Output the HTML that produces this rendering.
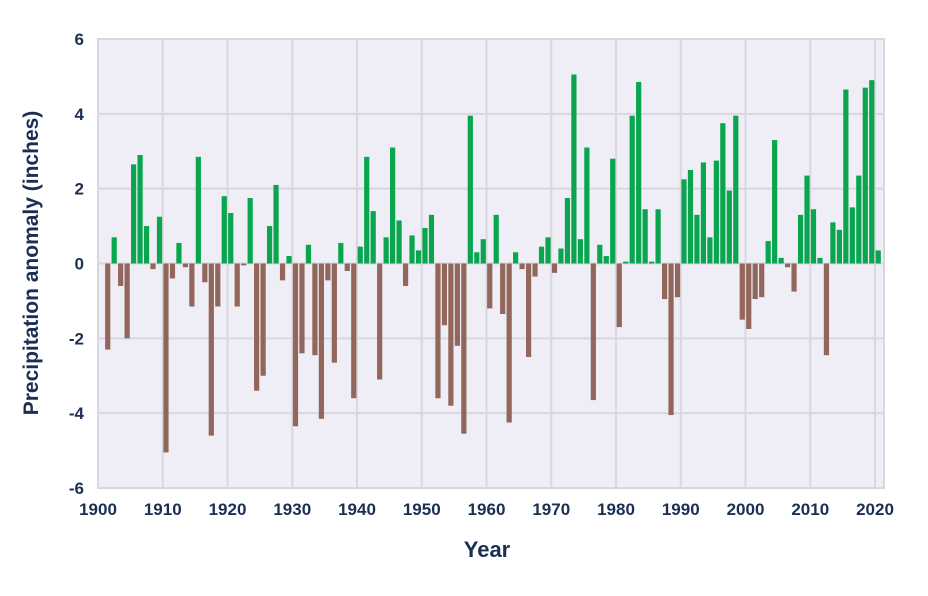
<!DOCTYPE html>
<html><head><meta charset="utf-8"><style>
body{margin:0;background:#fff;}
svg text{font-family:"Liberation Sans",sans-serif;font-weight:bold;fill:#1b2f55;}
</style></head><body>
<svg id="chart" width="928" height="591">
<rect x="98" y="39" width="786" height="449" fill="#efedf5" stroke="#d9d7de" stroke-width="2"/>
<g id="grid"></g>
<g id="bars"></g>
<g id="axes"></g>
<text x="487" y="557" font-size="22" text-anchor="middle">Year</text>
<text transform="translate(38,263) rotate(-90)" font-size="21" text-anchor="middle">Precipitation anomaly (inches)</text>
</svg>
<script>
const years=[];for(let y=1901;y<=2020;y++)years.push(y);
const values=[-2.3,0.7,-0.6,-2.0,2.65,2.9,1.0,-0.15,1.25,-5.05,
-0.4,0.55,-0.1,-1.15,2.85,-0.5,-4.6,-1.15,1.8,1.35,
-1.15,-0.05,1.75,-3.4,-3.0,1.0,2.1,-0.45,0.2,-4.35,
-2.4,0.5,-2.45,-4.15,-0.45,-2.65,0.55,-0.2,-3.6,0.45,
2.85,1.4,-3.1,0.7,3.1,1.15,-0.6,0.75,0.35,0.95,
1.3,-3.6,-1.65,-3.8,-2.2,-4.55,3.95,0.3,0.65,-1.2,
1.3,-1.35,-4.25,0.3,-0.15,-2.5,-0.35,0.45,0.7,-0.25,
0.4,1.75,5.05,0.65,3.1,-3.65,0.5,0.2,2.8,-1.7,
0.05,3.95,4.85,1.45,0.05,1.45,-0.95,-4.05,-0.9,2.25,
2.5,1.3,2.7,0.7,2.75,3.75,1.95,3.95,-1.5,-1.75,
-0.95,-0.9,0.6,3.3,0.15,-0.1,-0.75,1.3,2.35,1.45,
0.15,-2.45,1.1,0.9,4.65,1.5,2.35,4.7,4.9,0.35];
const xTicks=[1900,1910,1920,1930,1940,1950,1960,1970,1980,1990,2000,2010,2020];
const yTicks=[-6,-4,-2,0,2,4,6];
const NS="http://www.w3.org/2000/svg";
const x=v=>98+(v-1900)*(777/120);
const y=v=>263.5-v*(449/12);
const grid=document.getElementById('grid'),bars=document.getElementById('bars'),axes=document.getElementById('axes');
function mk(tag,attrs,parent){const e=document.createElementNS(NS,tag);for(const k in attrs)e.setAttribute(k,attrs[k]);parent.appendChild(e);return e;}
xTicks.forEach(t=>{
 const l=mk('line',{x1:x(t),x2:x(t),y1:39,y2:488,stroke:'#d9d7de','stroke-width':2},grid);
 
 
 const tx=mk('text',{x:x(t),y:515,'font-size':17,'text-anchor':'middle'},axes);tx.textContent=t;
 
 
});
yTicks.forEach(t=>{
 const l=mk('line',{x1:98,x2:884,y1:y(t),y2:y(t),stroke:'#d9d7de','stroke-width':2},grid);
 
 
 const tx=mk('text',{x:84,y:y(t)+6,'font-size':17,'text-anchor':'end'},axes);tx.textContent=t;
 
 
});
years.forEach((yr,i)=>{
 const v=values[i];const cx=x(yr+0.5);
 const top=Math.min(y(v),y(0)),h=Math.abs(y(v)-y(0));
 const r=mk('rect',{x:cx-2.6,y:top,width:5.2,height:Math.max(h,0.5),fill:v>=0?'#0aa64f':'#92665a'},bars);
 
 
});
</script>
</body></html>
